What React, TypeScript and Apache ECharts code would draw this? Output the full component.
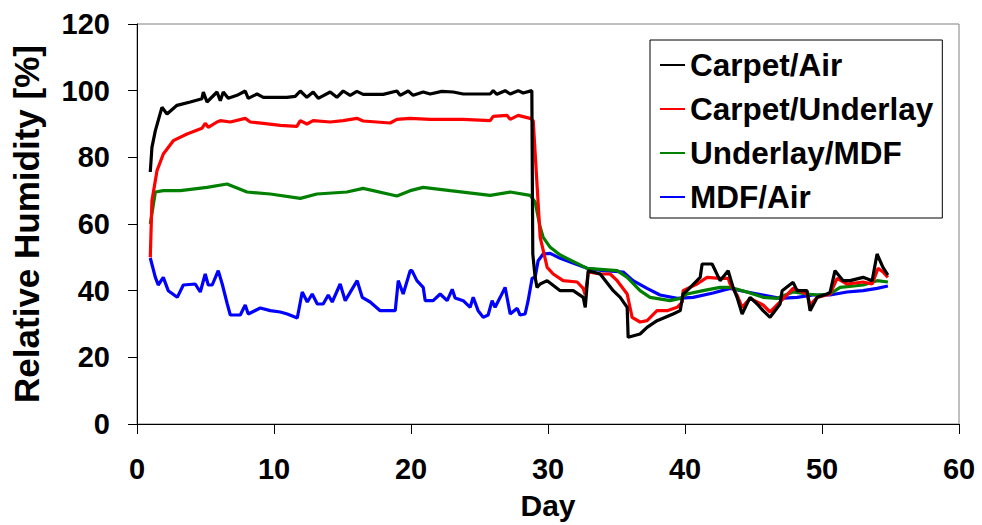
import React, { useEffect, useRef } from "react";
import * as echarts from "echarts";

const seriesNames = ["Carpet/Air", "Carpet/Underlay", "Underlay/MDF", "MDF/Air"];
const seriesColors = ["#000000", "#ff0000", "#008000", "#0000ff"];

const xTicks = [0, 10, 20, 30, 40, 50, 60];
const yTicks = [0, 20, 40, 60, 80, 100, 120];

const carpetAir: number[][] = [
  [0.97, 75.6], [1.09, 83], [1.34, 88], [1.82, 95], [2.19, 93], [2.92, 95.6], [3.89, 96.6], [4.74, 97.6],
  [4.84, 99.6], [5.11, 96.6], [5.84, 99.6], [6.08, 97], [6.3, 99.6], [6.66, 97.7], [7.3, 98.6], [7.9, 99.9],
  [8.12, 97.7], [8.76, 99], [9.22, 98], [9.95, 98], [10.94, 98], [11.55, 98.3], [11.92, 99.9], [12.4, 98],
  [12.86, 99.6], [13.23, 97.7], [14.1, 99.6], [14.59, 98], [15.05, 99.9], [15.56, 98.6], [16.05, 99.8],
  [16.51, 98.9], [17.97, 98.9], [18.97, 99.9], [19.21, 98.6], [19.8, 99.9], [20.16, 98.6], [20.89, 99.6],
  [21.4, 99], [22.25, 99.8], [23.08, 99.6], [23.81, 99], [25.78, 99], [26, 100], [26.27, 98.9], [26.87, 100],
  [27.24, 99], [27.82, 100], [28.19, 99.3], [28.82, 100], [28.89, 51], [29.06, 44], [29.2, 41], [29.43, 42],
  [29.94, 43], [30.89, 40], [31.84, 40], [32.57, 38], [32.72, 35], [32.94, 46], [33.81, 45], [34.76, 40],
  [35.27, 38], [35.78, 35], [35.85, 26], [36.72, 27], [37.23, 29], [37.96, 31], [39.13, 33], [39.65, 34],
  [39.86, 39], [40.15, 40], [41.11, 44], [41.25, 48], [41.98, 48], [42.56, 43], [43.15, 46], [43.51, 41],
  [43.8, 38], [44.17, 33], [44.75, 38], [45.27, 36], [45.7, 34], [46.21, 32], [46.94, 36], [47.09, 40],
  [47.89, 42.5], [48.18, 40], [48.91, 40], [49.13, 34], [49.65, 38], [50.37, 39], [50.59, 39.5], [50.95, 46],
  [51.54, 43], [52.05, 43], [53, 44], [53.66, 43], [54.02, 51], [54.45, 47], [54.81, 44.7],
];

const carpetUnderlay: number[][] = [
  [0.97, 50], [1.09, 67], [1.46, 76], [1.92, 81], [2.65, 85], [3.65, 87], [4.74, 88.7], [4.98, 90.2],
  [5.2, 89], [5.84, 90.6], [6.08, 91], [6.81, 90.6], [7.9, 91.7], [8.27, 90.6], [9.22, 90.2], [10.46, 89.6],
  [11.67, 89.3], [11.92, 91], [12.4, 90], [12.86, 91], [14.1, 90.6], [15.05, 91], [16.05, 91.7], [16.51, 90.9],
  [18.48, 90.3], [18.97, 91.4], [19.94, 91.7], [21.4, 91.4], [23.81, 91.4], [25.78, 91], [26, 92.3],
  [27, 92.6], [27.24, 91.4], [27.82, 92.6], [28.7, 91.7], [28.92, 91], [29.43, 56], [29.94, 47], [30.38, 45],
  [31.1, 43], [32.13, 42.6], [32.57, 40.7], [32.72, 38.7], [32.94, 45.6], [33.81, 45], [34.54, 45], [35.05, 43],
  [35.78, 39], [36.14, 32], [36.72, 30.6], [37.23, 31], [37.96, 34], [38.69, 34], [39.43, 35], [39.8, 36.6],
  [39.86, 40], [40.88, 42], [41.61, 44], [42.56, 43.7], [43.15, 43.7], [43.29, 42], [43.8, 38.7], [44.17, 35],
  [44.75, 37.7], [45.7, 35.7], [46.21, 33.6], [46.94, 36.6], [47.89, 40.7], [48.91, 39], [49.13, 35.7],
  [49.65, 38], [50.59, 39], [51.1, 43.7], [51.83, 42], [53, 42.6], [53.66, 42], [54.09, 46.7], [54.45, 45.6],
  [54.81, 44],
];

const underlayMdf: number[][] = [
  [0.97, 60], [1.34, 69.6], [1.92, 70], [3.16, 70], [5.11, 71], [6.57, 72], [8.03, 69.6], [9.73, 69],
  [11.92, 67.7], [13.13, 69], [15.32, 69.6], [16.51, 70.7], [18.97, 68.4], [19.94, 70], [20.89, 71],
  [22.86, 70], [25.78, 68.6], [27.24, 69.6], [28.7, 68.6], [29.06, 66.6], [29.43, 59], [29.65, 56],
  [30.16, 53], [30.89, 50.7], [32.86, 46.7], [35.05, 46], [35.78, 44], [36.72, 40], [37.45, 38], [38.91, 37],
  [39.65, 37.7], [40.15, 39], [41.32, 40], [42.56, 41], [43.29, 41], [44.53, 39.6], [45.7, 38], [46.72, 37.7],
  [47.89, 39.6], [48.91, 39], [49.65, 38.7], [50.59, 39], [51.32, 41], [53, 41.7], [54.02, 43], [54.81, 42.6],
];

const mdfAir: number[][] = [
  [0.97, 49.8], [1.34, 44], [1.55, 41.7], [1.92, 44], [2.28, 40], [2.94, 38], [3.38, 41.7], [4.25, 42],
  [4.62, 39.6], [4.98, 45], [5.2, 41.7], [5.49, 41.7], [5.93, 46], [6.22, 42], [6.59, 36], [6.81, 32.7],
  [7.54, 32.7], [7.9, 35.7], [8.12, 33], [9, 34.8], [9.73, 34], [10.46, 33.6], [10.97, 33], [11.7, 31.8],
  [12.06, 39.6], [12.43, 36.6], [12.79, 39], [13.16, 36], [13.59, 36], [13.96, 38.7], [14.25, 36.6],
  [14.83, 42], [15.2, 37], [16.07, 43], [16.44, 38], [17.02, 36.6], [17.75, 34], [18.48, 34], [18.85, 34],
  [19.07, 43], [19.43, 39], [19.94, 46], [20.07, 46], [20.43, 43], [20.89, 41], [21.04, 37], [21.62, 37],
  [22.13, 39], [22.64, 37], [23.01, 40.4], [23.22, 37.8], [23.81, 37], [24.32, 35], [24.54, 38], [24.9, 34],
  [25.27, 32], [25.63, 32.7], [25.92, 37], [26.14, 35], [26.51, 38], [26.87, 41], [27.24, 33], [27.75, 34.7],
  [27.96, 32.7], [28.33, 33], [28.55, 37], [28.84, 43.7], [29.06, 44], [29.28, 49], [29.65, 51], [30.16, 51.2],
  [30.89, 49.7], [31.62, 48.6], [32.86, 46.7], [34.03, 46], [35.49, 45.6], [36.21, 43], [37.23, 40.7],
  [38.18, 38.7], [39.43, 37.7], [40.59, 38], [42.05, 39.3], [43.29, 40.7], [44.53, 39.6], [45.7, 38.7],
  [46.94, 37.7], [48.18, 38], [49.35, 38.7], [50.59, 38.7], [51.83, 39.6], [53, 40], [54.02, 40.7],
  [54.81, 41.4],
];

const allData = [carpetAir, carpetUnderlay, underlayMdf, mdfAir];

const FONT = "'Liberation Sans', Arial, Helvetica, sans-serif";

export default function App() {
  const ref = useRef<HTMLDivElement>(null);
  useEffect(() => {
    if (!ref.current) return;
    const chart = echarts.init(ref.current, null, { renderer: "svg" });
    chart.setOption({
      animation: false,
      backgroundColor: "#ffffff",
      grid: {
        left: 137,
        right: 23,
        top: 24,
        bottom: 101,
        show: true,
        borderColor: "#808080",
        borderWidth: 1,
        backgroundColor: "#ffffff",
      },
      legend: {
        orient: "vertical",
        left: 650,
        top: 40,
        padding: [8, 9, 4, 10],
        itemGap: 10,
        itemWidth: 25,
        itemHeight: 2,
        icon: "rect",
        borderColor: "#000000",
        borderWidth: 1,
        backgroundColor: "#ffffff",
        data: seriesNames,
        textStyle: {
          fontFamily: FONT,
          fontWeight: "bold",
          fontSize: 31.5,
          lineHeight: 34,
          color: "#000000",
        },
      },
      xAxis: {
        type: "value",
        min: xTicks[0],
        max: xTicks[xTicks.length - 1],
        interval: 10,
        name: "Day",
        nameLocation: "middle",
        nameGap: 66,
        nameTextStyle: { fontFamily: FONT, fontWeight: "bold", fontSize: 30, color: "#000" },
        axisLine: { show: true, lineStyle: { color: "#000", width: 1 } },
        axisTick: { show: true, inside: false, length: 10, lineStyle: { color: "#000" } },
        axisLabel: { margin: 30, fontFamily: FONT, fontWeight: "bold", fontSize: 29, color: "#000" },
        splitLine: { show: false },
      },
      yAxis: {
        type: "value",
        min: yTicks[0],
        max: yTicks[yTicks.length - 1],
        interval: 20,
        name: "Relative Humidity [%]",
        nameLocation: "middle",
        nameGap: 93,
        nameTextStyle: { fontFamily: FONT, fontWeight: "bold", fontSize: 35, color: "#000" },
        axisLine: { show: true, lineStyle: { color: "#000", width: 1 } },
        axisTick: { show: true, inside: false, length: 9, lineStyle: { color: "#000" } },
        axisLabel: { margin: 27, fontFamily: FONT, fontWeight: "bold", fontSize: 29, color: "#000" },
        splitLine: { show: false },
      },
      series: seriesNames.map((name, i) => ({
        name,
        type: "line",
        data: allData[i],
        showSymbol: false,
        symbol: "none",
        color: seriesColors[i],
        lineStyle: { color: seriesColors[i], width: 3.2 },
        z: 10 - i,
      })),
    });
    return () => chart.dispose();
  }, []);
  return (
    <div
      ref={ref}
      style={{ position: "absolute", left: 0, top: 0, width: 982, height: 525 }}
    />
  );
}
